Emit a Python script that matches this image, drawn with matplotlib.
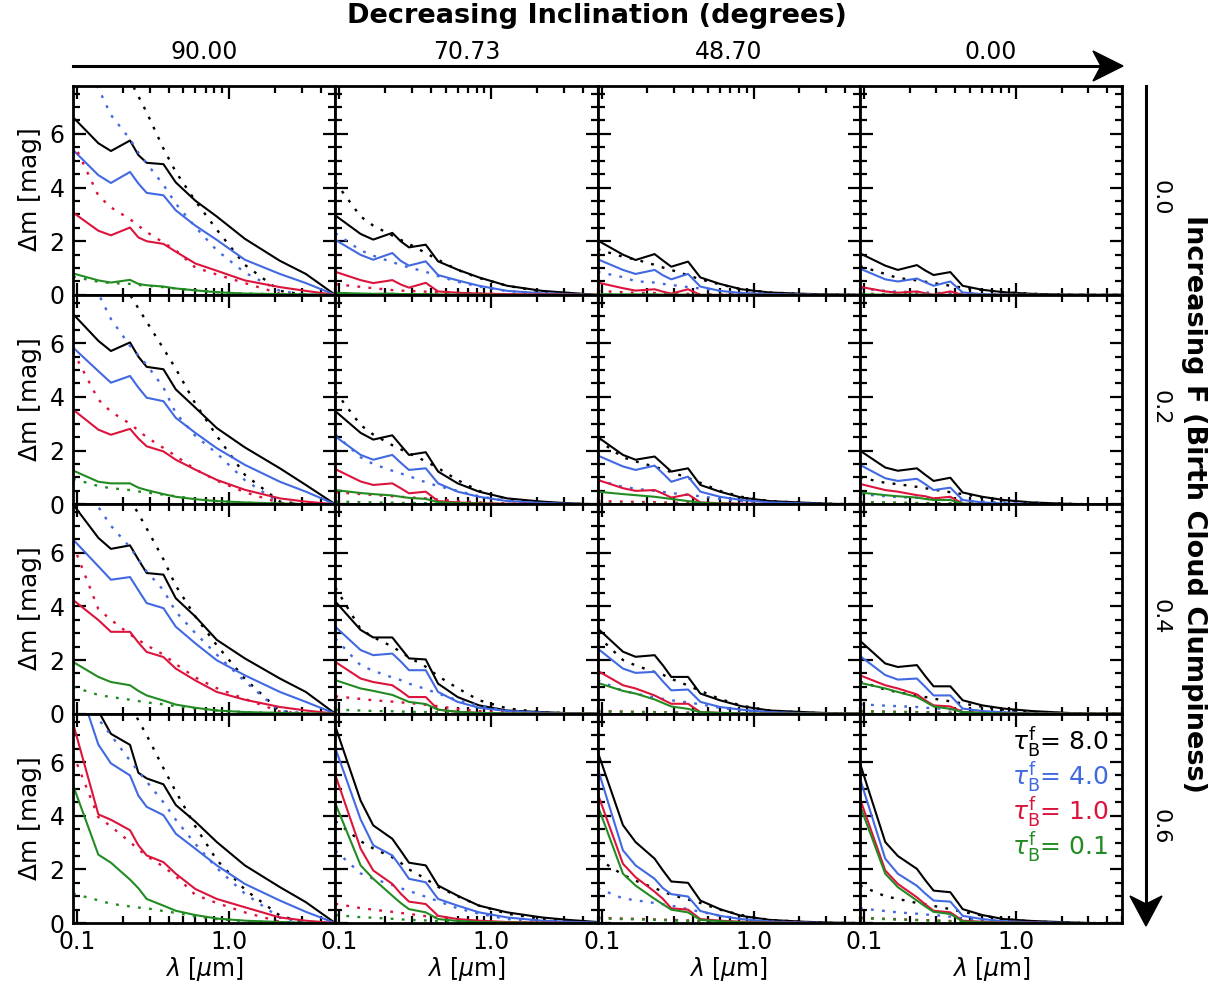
import matplotlib
matplotlib.use('Agg')
import matplotlib.pyplot as plt
from matplotlib.ticker import MultipleLocator, FormatStrFormatter, LogLocator, NullFormatter
from matplotlib.patches import Polygon
from matplotlib.lines import Line2D

# wavelength grid (micron)
lam = [0.094, 0.138, 0.167, 0.223, 0.253, 0.287, 0.37, 0.446, 0.6, 0.83, 1.27, 2.16, 3.2, 5.0]

inclinations = ['90.00', '70.73', '48.70', '0.00']
clumpiness = ['0.0', '0.2', '0.4', '0.6']
tau_labels = ['8.0', '4.0', '1.0', '0.1']
colors = ['black', 'royalblue', 'crimson', 'forestgreen']

# each block: rows = tau 8.0, 4.0, 1.0, 0.1  (solid = clumpy, dot = smooth)
#%% F = 0.0
solid_F0_i90 = [[6.62, 5.65, 5.36, 5.75, 5.21, 4.92, 4.87, 4.19, 3.51, 2.92, 2.09, 1.27, 0.78, 0.0],
                [5.40, 4.46, 4.17, 4.58, 4.15, 3.80, 3.71, 3.15, 2.58, 2.05, 1.31, 0.78, 0.44, 0.0],
                [3.07, 2.39, 2.22, 2.51, 2.14, 2.00, 1.90, 1.61, 1.17, 0.90, 0.54, 0.29, 0.15, 0.0],
                [0.80, 0.54, 0.46, 0.56, 0.41, 0.36, 0.31, 0.24, 0.17, 0.10, 0.05, 0.03, 0.02, 0.0]]
dot_F0_i90 = [[12.0, 10.2, 9.4, 8.0, 7.4, 6.8, 5.45, 4.58, 3.5, 2.43, 1.12, 0.15, 0.0, 0.0],
              [9.2, 7.7, 6.7, 5.8, 5.3, 4.9, 4.1, 3.4, 2.53, 1.66, 0.83, 0.15, 0.0, 0.0],
              [5.7, 3.7, 3.26, 2.82, 2.58, 2.34, 1.95, 1.66, 1.02, 0.76, 0.44, 0.05, 0.0, 0.0],
              [0.68, 0.49, 0.44, 0.41, 0.37, 0.34, 0.29, 0.24, 0.17, 0.10, 0.05, 0.02, 0.0, 0.0]]
solid_F0_i71 = [[2.96, 2.27, 2.06, 2.31, 2.00, 1.77, 1.87, 1.25, 0.94, 0.65, 0.34, 0.15, 0.08, 0.0],
                [2.05, 1.49, 1.31, 1.56, 1.27, 1.09, 1.25, 0.74, 0.54, 0.34, 0.15, 0.06, 0.03, 0.0],
                [0.86, 0.55, 0.44, 0.55, 0.39, 0.27, 0.45, 0.13, 0.08, 0.05, 0.03, 0.02, 0.01, 0.0],
                [0.08, 0.05, 0.04, 0.05, 0.03, 0.03, 0.03, 0.02, 0.01, 0.01, 0.0, 0.0, 0.0, 0.0]]
dot_F0_i71 = [[4.2, 2.92, 2.58, 2.21, 2.05, 1.9, 1.56, 1.31, 0.93, 0.63, 0.34, 0.12, 0.05, 0.0],
              [2.3, 1.66, 1.46, 1.22, 1.12, 1.02, 0.86, 0.7, 0.49, 0.31, 0.14, 0.05, 0.02, 0.0],
              [0.4, 0.3, 0.25, 0.18, 0.16, 0.15, 0.12, 0.1, 0.07, 0.05, 0.02, 0.01, 0.0, 0.0],
              [0.05, 0.03, 0.03, 0.02, 0.02, 0.02, 0.02, 0.01, 0.01, 0.0, 0.0, 0.0, 0.0, 0.0]]
solid_F0_i49 = [[2.03, 1.50, 1.30, 1.52, 1.28, 1.05, 1.24, 0.65, 0.41, 0.21, 0.09, 0.04, 0.02, 0.0],
                [1.33, 0.93, 0.78, 0.93, 0.73, 0.58, 0.78, 0.31, 0.15, 0.07, 0.03, 0.01, 0.0, 0.0],
                [0.46, 0.25, 0.16, 0.21, 0.12, 0.05, 0.21, 0.0, 0.0, 0.0, 0.0, 0.0, 0.0, 0.0],
                [0.03, 0.02, 0.02, 0.02, 0.01, 0.01, 0.01, 0.0, 0.0, 0.0, 0.0, 0.0, 0.0, 0.0]]
dot_F0_i49 = [[1.7, 1.42, 1.32, 1.12, 1.02, 0.93, 0.73, 0.58, 0.39, 0.21, 0.09, 0.03, 0.01, 0.0],
              [0.86, 0.66, 0.51, 0.46, 0.41, 0.37, 0.29, 0.24, 0.15, 0.07, 0.03, 0.01, 0.0, 0.0],
              [0.15, 0.1, 0.08, 0.07, 0.06, 0.05, 0.04, 0.03, 0.02, 0.01, 0.0, 0.0, 0.0, 0.0],
              [0.02, 0.01, 0.01, 0.01, 0.01, 0.01, 0.0, 0.0, 0.0, 0.0, 0.0, 0.0, 0.0, 0.0]]
solid_F0_i0 = [[1.55, 1.09, 0.93, 1.11, 0.91, 0.74, 0.85, 0.34, 0.19, 0.10, 0.04, 0.01, 0.0, 0.0],
               [0.98, 0.58, 0.50, 0.61, 0.47, 0.34, 0.50, 0.09, 0.03, 0.01, 0.0, 0.0, 0.0, 0.0],
               [0.30, 0.13, 0.08, 0.13, 0.06, 0.01, 0.13, 0.0, 0.0, 0.0, 0.0, 0.0, 0.0, 0.0],
               [0.02, 0.01, 0.01, 0.01, 0.01, 0.0, 0.0, 0.0, 0.0, 0.0, 0.0, 0.0, 0.0, 0.0]]
dot_F0_i0 = [[1.07, 0.78, 0.63, 0.54, 0.49, 0.44, 0.34, 0.27, 0.18, 0.1, 0.04, 0.01, 0.0, 0.0],
             [0.24, 0.15, 0.12, 0.1, 0.09, 0.08, 0.06, 0.04, 0.02, 0.01, 0.0, 0.0, 0.0, 0.0],
             [0.05, 0.03, 0.03, 0.02, 0.02, 0.02, 0.01, 0.01, 0.0, 0.0, 0.0, 0.0, 0.0, 0.0],
             [0.01, 0.01, 0.0, 0.0, 0.0, 0.0, 0.0, 0.0, 0.0, 0.0, 0.0, 0.0, 0.0, 0.0]]

#%% F = 0.2
solid_F2_i90 = [[7.09, 6.09, 5.71, 6.03, 5.50, 5.12, 5.03, 4.28, 3.60, 2.84, 2.12, 1.34, 0.72, 0.0],
                [5.84, 4.96, 4.53, 4.78, 4.35, 3.97, 3.84, 3.22, 2.66, 2.09, 1.47, 0.84, 0.47, 0.0],
                [3.53, 2.78, 2.59, 2.81, 2.45, 2.16, 1.97, 1.66, 1.29, 0.91, 0.54, 0.22, 0.10, 0.0],
                [1.26, 0.84, 0.78, 0.78, 0.62, 0.53, 0.38, 0.28, 0.19, 0.12, 0.07, 0.03, 0.01, 0.0]]
dot_F2_i90 = [[11.3, 9.7, 8.9, 7.8, 7.3, 6.8, 5.8, 5.05, 3.75, 2.55, 1.1, 0.1, 0.0, 0.0],
              [9.5, 7.85, 6.9, 5.9, 5.55, 5.2, 4.35, 3.4, 2.55, 1.9, 0.9, 0.05, 0.0, 0.0],
              [5.7, 3.9, 3.45, 3.0, 2.75, 2.5, 2.1, 1.8, 1.3, 0.88, 0.45, 0.05, 0.0, 0.0],
              [0.95, 0.68, 0.6, 0.53, 0.48, 0.44, 0.36, 0.3, 0.2, 0.12, 0.06, 0.02, 0.0, 0.0]]
solid_F2_i71 = [[3.47, 2.66, 2.41, 2.57, 2.20, 1.84, 1.94, 1.22, 0.78, 0.47, 0.22, 0.10, 0.04, 0.0],
                [2.53, 1.84, 1.66, 1.84, 1.55, 1.28, 1.34, 0.78, 0.47, 0.28, 0.12, 0.05, 0.02, 0.0],
                [1.31, 0.85, 0.72, 0.78, 0.60, 0.41, 0.47, 0.12, 0.07, 0.04, 0.02, 0.01, 0.0, 0.0],
                [0.53, 0.42, 0.38, 0.33, 0.28, 0.24, 0.20, 0.08, 0.05, 0.03, 0.01, 0.0, 0.0, 0.0]]
dot_F2_i71 = [[4.2, 2.95, 2.6, 2.2, 2.05, 1.9, 1.6, 1.35, 0.9, 0.5, 0.2, 0.05, 0.02, 0.0],
              [2.6, 1.75, 1.5, 1.25, 1.15, 1.05, 0.82, 0.68, 0.5, 0.3, 0.12, 0.03, 0.01, 0.0],
              [0.45, 0.38, 0.35, 0.3, 0.28, 0.26, 0.22, 0.18, 0.12, 0.07, 0.03, 0.01, 0.0, 0.0],
              [0.1, 0.08, 0.07, 0.06, 0.05, 0.05, 0.04, 0.03, 0.02, 0.01, 0.0, 0.0, 0.0, 0.0]]
solid_F2_i49 = [[2.51, 1.84, 1.66, 1.78, 1.50, 1.22, 1.34, 0.72, 0.47, 0.25, 0.12, 0.06, 0.02, 0.0],
                [1.82, 1.41, 1.28, 1.44, 1.15, 0.84, 1.03, 0.47, 0.28, 0.16, 0.07, 0.03, 0.01, 0.0],
                [0.91, 0.60, 0.50, 0.53, 0.40, 0.25, 0.37, 0.07, 0.04, 0.02, 0.01, 0.0, 0.0, 0.0],
                [0.47, 0.38, 0.34, 0.28, 0.24, 0.20, 0.12, 0.06, 0.03, 0.01, 0.0, 0.0, 0.0, 0.0]]
dot_F2_i49 = [[2.4, 1.75, 1.6, 1.4, 1.3, 1.2, 0.98, 0.8, 0.5, 0.28, 0.12, 0.05, 0.02, 0.0],
              [0.9, 0.65, 0.58, 0.5, 0.46, 0.42, 0.35, 0.3, 0.2, 0.12, 0.05, 0.02, 0.0, 0.0],
              [0.12, 0.1, 0.09, 0.08, 0.07, 0.06, 0.05, 0.04, 0.03, 0.01, 0.0, 0.0, 0.0, 0.0],
              [0.04, 0.03, 0.03, 0.03, 0.02, 0.02, 0.02, 0.01, 0.01, 0.0, 0.0, 0.0, 0.0, 0.0]]
solid_F2_i0 = [[2.00, 1.37, 1.25, 1.34, 1.10, 0.87, 0.99, 0.44, 0.28, 0.16, 0.07, 0.02, 0.0, 0.0],
               [1.47, 0.97, 0.87, 0.95, 0.75, 0.53, 0.62, 0.16, 0.07, 0.03, 0.01, 0.0, 0.0, 0.0],
               [0.76, 0.53, 0.47, 0.34, 0.30, 0.22, 0.28, 0.02, 0.01, 0.0, 0.0, 0.0, 0.0, 0.0],
               [0.44, 0.34, 0.30, 0.25, 0.20, 0.16, 0.16, 0.02, 0.01, 0.0, 0.0, 0.0, 0.0, 0.0]]
dot_F2_i0 = [[1.0, 0.8, 0.75, 0.65, 0.6, 0.55, 0.45, 0.38, 0.25, 0.15, 0.06, 0.02, 0.0, 0.0],
             [0.38, 0.3, 0.27, 0.24, 0.22, 0.2, 0.17, 0.14, 0.1, 0.06, 0.02, 0.0, 0.0, 0.0],
             [0.06, 0.05, 0.05, 0.04, 0.04, 0.03, 0.03, 0.02, 0.01, 0.0, 0.0, 0.0, 0.0, 0.0],
             [0.08, 0.07, 0.06, 0.05, 0.05, 0.04, 0.03, 0.02, 0.01, 0.0, 0.0, 0.0, 0.0, 0.0]]

#%% F = 0.4
solid_F4_i90 = [[7.80, 6.55, 6.14, 6.27, 5.74, 5.24, 5.18, 4.30, 3.62, 2.75, 2.06, 1.31, 0.81, 0.0],
                [6.49, 5.49, 4.99, 5.09, 4.60, 4.12, 3.93, 3.24, 2.62, 1.99, 1.43, 0.81, 0.44, 0.0],
                [4.24, 3.49, 3.05, 3.05, 2.65, 2.30, 2.11, 1.68, 1.24, 0.81, 0.52, 0.25, 0.12, 0.0],
                [1.93, 1.37, 1.18, 1.06, 0.85, 0.68, 0.49, 0.34, 0.22, 0.12, 0.06, 0.03, 0.01, 0.0]]
dot_F4_i90 = [[12.0, 10.3, 9.4, 8.0, 7.45, 6.9, 5.75, 4.77, 3.62, 2.55, 1.3, 0.1, 0.0, 0.0],
              [9.5, 7.7, 7.0, 6.2, 5.75, 5.3, 4.6, 3.8, 3.0, 2.2, 1.2, 0.1, 0.0, 0.0],
              [6.3, 3.9, 3.5, 2.95, 2.75, 2.55, 2.2, 1.85, 1.35, 0.95, 0.55, 0.08, 0.0, 0.0],
              [1.0, 0.7, 0.62, 0.52, 0.47, 0.42, 0.35, 0.28, 0.2, 0.12, 0.06, 0.02, 0.0, 0.0]]
solid_F4_i71 = [[4.18, 3.12, 2.84, 2.84, 2.45, 2.06, 2.02, 1.12, 0.62, 0.31, 0.12, 0.06, 0.02, 0.0],
                [3.24, 2.37, 2.18, 2.24, 1.95, 1.62, 1.62, 0.81, 0.44, 0.22, 0.10, 0.04, 0.01, 0.0],
                [1.93, 1.31, 1.18, 1.06, 0.85, 0.62, 0.62, 0.15, 0.07, 0.03, 0.01, 0.0, 0.0, 0.0],
                [1.25, 0.94, 0.85, 0.70, 0.57, 0.44, 0.36, 0.15, 0.07, 0.03, 0.01, 0.0, 0.0, 0.0]]
dot_F4_i71 = [[4.7, 3.15, 2.85, 2.5, 2.3, 2.1, 1.75, 1.4, 0.95, 0.5, 0.2, 0.05, 0.02, 0.0],
              [2.8, 1.8, 1.6, 1.35, 1.25, 1.12, 0.92, 0.75, 0.5, 0.3, 0.12, 0.03, 0.01, 0.0],
              [0.65, 0.55, 0.5, 0.45, 0.42, 0.4, 0.33, 0.28, 0.18, 0.1, 0.04, 0.01, 0.0, 0.0],
              [0.15, 0.12, 0.1, 0.09, 0.08, 0.07, 0.06, 0.05, 0.03, 0.01, 0.0, 0.0, 0.0, 0.0]]
solid_F4_i49 = [[3.18, 2.31, 2.12, 2.18, 1.80, 1.37, 1.37, 0.75, 0.50, 0.28, 0.12, 0.06, 0.02, 0.0],
                [2.43, 1.68, 1.52, 1.56, 1.20, 0.87, 0.90, 0.44, 0.25, 0.15, 0.06, 0.02, 0.0, 0.0],
                [1.60, 1.06, 0.94, 0.68, 0.52, 0.37, 0.37, 0.06, 0.03, 0.01, 0.0, 0.0, 0.0, 0.0],
                [1.15, 0.85, 0.75, 0.53, 0.40, 0.27, 0.18, 0.06, 0.03, 0.01, 0.0, 0.0, 0.0, 0.0]]
dot_F4_i49 = [[2.9, 2.0, 1.8, 1.55, 1.45, 1.3, 1.05, 0.85, 0.55, 0.3, 0.12, 0.04, 0.01, 0.0],
              [1.25, 0.85, 0.75, 0.6, 0.55, 0.5, 0.42, 0.35, 0.22, 0.12, 0.05, 0.01, 0.0, 0.0],
              [0.1, 0.08, 0.07, 0.06, 0.05, 0.05, 0.04, 0.03, 0.02, 0.01, 0.0, 0.0, 0.0, 0.0],
              [0.08, 0.07, 0.06, 0.05, 0.05, 0.04, 0.03, 0.02, 0.01, 0.0, 0.0, 0.0, 0.0, 0.0]]
solid_F4_i0 = [[2.72, 1.87, 1.74, 1.81, 1.40, 1.02, 1.02, 0.50, 0.31, 0.19, 0.10, 0.03, 0.0, 0.0],
               [2.15, 1.44, 1.27, 1.31, 1.00, 0.68, 0.68, 0.19, 0.10, 0.05, 0.01, 0.0, 0.0, 0.0],
               [1.43, 1.06, 0.94, 0.72, 0.50, 0.31, 0.27, 0.06, 0.03, 0.01, 0.0, 0.0, 0.0, 0.0],
               [1.15, 0.94, 0.81, 0.62, 0.45, 0.27, 0.18, 0.06, 0.03, 0.01, 0.0, 0.0, 0.0, 0.0]]
dot_F4_i0 = [[1.2, 0.9, 0.8, 0.68, 0.62, 0.56, 0.46, 0.38, 0.26, 0.15, 0.06, 0.02, 0.0, 0.0],
             [0.35, 0.3, 0.28, 0.25, 0.22, 0.2, 0.16, 0.12, 0.08, 0.04, 0.01, 0.0, 0.0, 0.0],
             [0.1, 0.08, 0.07, 0.06, 0.05, 0.05, 0.04, 0.03, 0.02, 0.01, 0.0, 0.0, 0.0, 0.0],
             [0.08, 0.07, 0.06, 0.05, 0.05, 0.04, 0.03, 0.02, 0.01, 0.0, 0.0, 0.0, 0.0, 0.0]]

#%% F = 0.6
solid_F6_i90 = [[9.8, 7.9, 7.05, 6.64, 5.60, 5.39, 5.17, 4.40, 3.78, 3.02, 2.15, 1.34, 0.78, 0.0],
                [9.5, 6.65, 5.95, 5.50, 4.75, 4.33, 4.02, 3.33, 2.77, 2.15, 1.46, 0.84, 0.42, 0.0],
                [7.45, 4.05, 3.85, 3.46, 2.90, 2.52, 2.27, 1.84, 1.27, 0.90, 0.59, 0.21, 0.09, 0.0],
                [5.14, 2.55, 2.25, 1.62, 1.30, 0.90, 0.65, 0.46, 0.30, 0.17, 0.09, 0.04, 0.01, 0.0]]
dot_F6_i90 = [[12.0, 10.2, 9.5, 8.2, 7.55, 7.0, 5.77, 4.9, 3.6, 2.35, 1.25, 0.28, 0.0, 0.0],
              [9.3, 7.6, 7.0, 6.05, 5.65, 5.27, 4.5, 3.85, 2.95, 2.05, 1.1, 0.2, 0.0, 0.0],
              [6.3, 3.95, 3.6, 3.02, 2.75, 2.5, 2.1, 1.75, 1.05, 0.75, 0.4, 0.05, 0.0, 0.0],
              [1.1, 0.85, 0.72, 0.62, 0.58, 0.55, 0.45, 0.38, 0.25, 0.15, 0.07, 0.02, 0.0, 0.0]]
solid_F6_i71 = [[7.33, 4.56, 3.64, 3.14, 2.70, 2.25, 2.15, 1.40, 1.02, 0.65, 0.40, 0.21, 0.12, 0.04],
                [6.52, 3.86, 2.90, 2.52, 2.10, 1.65, 1.52, 0.90, 0.65, 0.40, 0.21, 0.09, 0.05, 0.02],
                [5.52, 2.77, 1.96, 1.46, 1.10, 0.80, 0.71, 0.27, 0.15, 0.09, 0.04, 0.02, 0.01, 0.0],
                [4.46, 2.15, 1.65, 1.02, 0.75, 0.52, 0.40, 0.15, 0.08, 0.04, 0.02, 0.01, 0.0, 0.0]]
dot_F6_i71 = [[3.8, 3.05, 2.78, 2.45, 2.25, 2.0, 1.65, 1.35, 1.0, 0.65, 0.35, 0.15, 0.06, 0.0],
              [2.7, 1.85, 1.65, 1.42, 1.3, 1.2, 0.98, 0.82, 0.55, 0.35, 0.15, 0.05, 0.02, 0.0],
              [0.72, 0.56, 0.5, 0.42, 0.38, 0.34, 0.26, 0.2, 0.13, 0.07, 0.03, 0.01, 0.0, 0.0],
              [0.3, 0.22, 0.2, 0.16, 0.14, 0.12, 0.1, 0.07, 0.04, 0.02, 0.01, 0.0, 0.0, 0.0]]
solid_F6_i49 = [[6.39, 3.65, 3.02, 2.40, 1.96, 1.55, 1.50, 0.84, 0.52, 0.27, 0.12, 0.05, 0.02, 0.0],
                [5.77, 2.71, 2.15, 1.65, 1.30, 1.08, 0.99, 0.45, 0.27, 0.15, 0.06, 0.02, 0.0, 0.0],
                [4.83, 2.21, 1.71, 1.17, 0.90, 0.55, 0.50, 0.15, 0.09, 0.05, 0.02, 0.01, 0.0, 0.0],
                [4.39, 1.84, 1.40, 0.90, 0.70, 0.50, 0.40, 0.12, 0.07, 0.03, 0.01, 0.0, 0.0, 0.0]]
dot_F6_i49 = [[2.4, 1.8, 1.58, 1.3, 1.18, 1.05, 0.88, 0.75, 0.5, 0.3, 0.12, 0.04, 0.01, 0.0],
              [1.3, 0.92, 0.85, 0.75, 0.7, 0.65, 0.52, 0.42, 0.28, 0.15, 0.06, 0.02, 0.0, 0.0],
              [0.2, 0.17, 0.16, 0.14, 0.13, 0.12, 0.1, 0.08, 0.05, 0.03, 0.01, 0.0, 0.0, 0.0],
              [0.18, 0.15, 0.14, 0.12, 0.11, 0.1, 0.08, 0.06, 0.04, 0.02, 0.01, 0.0, 0.0, 0.0]]
solid_F6_i0 = [[5.96, 3.02, 2.50, 2.02, 1.60, 1.21, 1.15, 0.52, 0.30, 0.15, 0.08, 0.03, 0.0, 0.0],
               [5.39, 2.40, 1.84, 1.39, 1.10, 0.84, 0.80, 0.27, 0.15, 0.07, 0.03, 0.01, 0.0, 0.0],
               [4.64, 1.96, 1.46, 0.96, 0.70, 0.46, 0.40, 0.09, 0.05, 0.02, 0.01, 0.0, 0.0, 0.0],
               [4.39, 1.84, 1.34, 0.84, 0.62, 0.42, 0.34, 0.06, 0.03, 0.01, 0.0, 0.0, 0.0, 0.0]]
dot_F6_i0 = [[1.4, 1.0, 0.9, 0.75, 0.7, 0.64, 0.52, 0.42, 0.28, 0.15, 0.06, 0.02, 0.0, 0.0],
             [0.55, 0.45, 0.4, 0.35, 0.32, 0.3, 0.24, 0.18, 0.12, 0.06, 0.02, 0.0, 0.0, 0.0],
             [0.2, 0.16, 0.15, 0.12, 0.11, 0.1, 0.08, 0.06, 0.04, 0.02, 0.01, 0.0, 0.0, 0.0],
             [0.18, 0.15, 0.13, 0.11, 0.1, 0.09, 0.07, 0.05, 0.03, 0.02, 0.0, 0.0, 0.0, 0.0]]

panels = [[(solid_F0_i90, dot_F0_i90), (solid_F0_i71, dot_F0_i71), (solid_F0_i49, dot_F0_i49), (solid_F0_i0, dot_F0_i0)],
          [(solid_F2_i90, dot_F2_i90), (solid_F2_i71, dot_F2_i71), (solid_F2_i49, dot_F2_i49), (solid_F2_i0, dot_F2_i0)],
          [(solid_F4_i90, dot_F4_i90), (solid_F4_i71, dot_F4_i71), (solid_F4_i49, dot_F4_i49), (solid_F4_i0, dot_F4_i0)],
          [(solid_F6_i90, dot_F6_i90), (solid_F6_i71, dot_F6_i71), (solid_F6_i49, dot_F6_i49), (solid_F6_i0, dot_F6_i0)]]

W, H = 1212.0, 983.0
fig = plt.figure(figsize=(W / 100, H / 100), dpi=100)

def fx(x):
    return x / W

def fy(y):
    return 1 - y / H

left0, pw = 73.0, 262.3
top0, ph = 85.5, 209.4

for r in range(4):
    for c in range(4):
        ax = fig.add_axes([fx(left0 + c * pw), fy(top0 + (r + 1) * ph), pw / W, ph / H])
        solid, dot = panels[r][c]
        for k in range(4):
            ax.plot(lam, solid[k], color=colors[k], lw=1.5)
            ax.plot(lam, dot[k], color=colors[k], lw=1.7, ls=(0, (1.2, 3.5)))
        ax.set_xscale('log')
        ax.set_xlim(0.094, 5.0)
        ax.set_ylim(0, 7.8)
        ax.xaxis.set_major_locator(LogLocator(base=10))
        ax.xaxis.set_minor_locator(LogLocator(base=10, subs=range(2, 10)))
        ax.xaxis.set_major_formatter(FormatStrFormatter('%.1f'))
        ax.xaxis.set_minor_formatter(NullFormatter())
        ax.yaxis.set_major_locator(MultipleLocator(2))
        ax.yaxis.set_minor_locator(MultipleLocator(0.5))
        ax.yaxis.set_major_formatter(FormatStrFormatter('%d'))
        ax.tick_params(which='both', direction='in', top=True, right=True, width=1.6, labelsize=17)
        ax.tick_params(which='major', length=9)
        ax.tick_params(which='minor', length=5)
        ax.tick_params(axis='y', pad=6)
        ax.tick_params(axis='x', pad=5)
        for s in ax.spines.values():
            s.set_linewidth(2)
        if c == 0:
            ax.set_ylabel(r'$\Delta$m [mag]', fontsize=18)
            ax.yaxis.set_label_coords(-0.112, 0.5)
        else:
            ax.tick_params(labelleft=False)
        if r == 3:
            ax.set_xlabel(r'$\lambda$ [$\mu$m]', fontsize=17)
            ax.xaxis.set_label_coords(0.5, -0.15)
        else:
            ax.tick_params(labelbottom=False)
        if r == 3 and c == 3:
            for k in range(4):
                ax.text(0.947, 0.865 - k * 0.167, r'$\tau_{\rm B}^{\rm f}$= ' + tau_labels[k],
                        color=colors[k], fontsize=18, ha='right', va='center', transform=ax.transAxes)

# top annotation
fig.text(fx(597), fy(16), 'Decreasing Inclination (degrees)', ha='center', va='center',
         fontsize=19.5, fontweight='bold')
for c in range(4):
    fig.text(fx(left0 + (c + 0.5) * pw), fy(52), inclinations[c], ha='center', va='center', fontsize=17)
fig.add_artist(Line2D([fx(73), fx(1105)], [fy(66), fy(66)], color='black', lw=2.2))
fig.add_artist(Polygon([(fx(1123), fy(66)), (fx(1093), fy(51)), (fx(1101), fy(66)), (fx(1093), fy(81))],
                       closed=True, color='black'))

# right annotation
fig.add_artist(Line2D([fx(1146), fx(1146)], [fy(86), fy(905)], color='black', lw=2.2))
fig.add_artist(Polygon([(fx(1146), fy(926)), (fx(1130), fy(896)), (fx(1146), fy(904)), (fx(1162), fy(896))],
                       closed=True, color='black'))
for r in range(4):
    fig.text(fx(1161), fy(top0 + (r + 0.5) * ph + 8), clumpiness[r], ha='center', va='center',
             rotation=-90, fontsize=16)
fig.text(fx(1194), fy(504), 'Increasing F (Birth Cloud Clumpiness)', ha='center', va='center',
         rotation=-90, fontsize=19.5, fontweight='bold')

plt.savefig('out.png', dpi=100)
plt.close()
